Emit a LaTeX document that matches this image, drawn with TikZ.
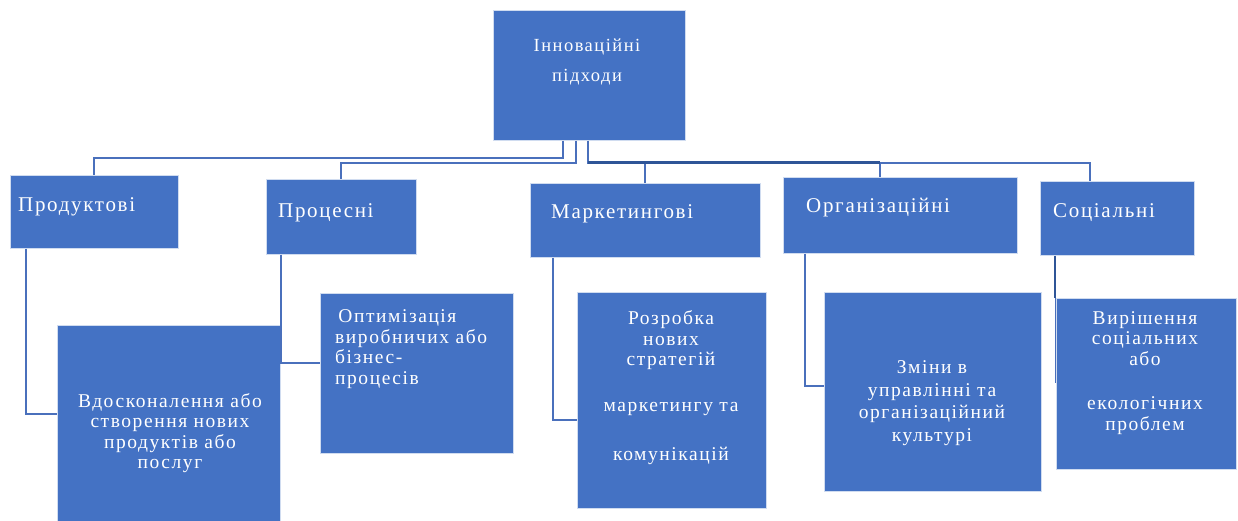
\documentclass[tikz,border=0pt]{standalone}
\usepackage{fontspec}
\setmainfont{Liberation Serif}[LetterSpace=8]
\usetikzlibrary{positioning}

\definecolor{boxblue}{HTML}{4472C4}
\definecolor{linkblue}{HTML}{4A70BC}
\definecolor{darkblue}{HTML}{2F5597}

\tikzset{
	boxnode/.style={draw=white!75!boxblue, fill=boxblue, line width=0.6pt, inner sep=0pt, anchor=north west},
	headtext/.style={text=white, anchor=west, inner sep=0pt, font=\fontsize{21}{23}\selectfont},
	bodytext/.style={text=white, align=center, inner sep=0pt, font=\fontsize{19.5}{20.5}\selectfont},
	link/.style={draw=linkblue, line width=2pt},
}

\begin{document}
\begin{tikzpicture}[x=1pt, y=-1pt]
	
	% Rahmen des Bildes
	\useasboundingbox (0,0) rectangle (1238,521);
	
	% Oberer Kasten
	\node[boxnode, minimum width=192pt, minimum height=130pt] (top) at (493,10) {};
	\node[bodytext, font=\fontsize{18.5}{30}\selectfont] (toptxt) at (587,62) {Інноваційні\\підходи};
	
	% Erste Reihe: Arten
	\node[boxnode, minimum width=168pt, minimum height=73pt] (prod) at (10,175) {};
	\node[boxnode, minimum width=150pt, minimum height=75pt] (proc) at (266,179) {};
	\node[boxnode, minimum width=230pt, minimum height=74pt] (mark) at (530,183) {};
	\node[boxnode, minimum width=234pt, minimum height=76pt] (org) at (783,177) {};
	\node[boxnode, minimum width=154pt, minimum height=74pt] (soc) at (1040,181) {};
	
	\node[headtext] (prodtxt) at ([xshift=8pt,yshift=5pt]prod.west) {Продуктові};
	\node[headtext] (proctxt) at ([xshift=12pt,yshift=4pt]proc.west) {Процесні};
	\node[headtext] (marktxt) at ([xshift=21pt,yshift=7pt]mark.west) {Маркетингові};
	\node[headtext] (orgtxt) at ([xshift=23pt,yshift=8pt]org.west) {Організаційні};
	\node[headtext] (soctxt) at ([xshift=13pt,yshift=6pt]soc.west) {Соціальні};
	
	% Zweite Reihe: Beschreibungen
	\node[boxnode, minimum width=223pt, minimum height=200pt] (impr) at (57,325) {};
	\node[boxnode, minimum width=193pt, minimum height=160pt] (opt) at (320,293) {};
	\node[boxnode, minimum width=189pt, minimum height=216pt] (dev) at (577,292) {};
	\node[boxnode, minimum width=217pt, minimum height=199pt] (chg) at (824,292) {};
	\node[boxnode, minimum width=180pt, minimum height=171pt] (solv) at (1056,298) {};
	
	\node[bodytext] (imprtxt) at (170,433) {Вдосконалення або\\створення нових\\продуктів або\\послуг};
	\node[bodytext, align=left, anchor=west] (opttxt) at (335,349) {\,Оптимізація\\виробничих або\\бізнес-\\процесів};
	\node[bodytext] (devtxt) at (671,388) {Розробка\\нових\\стратегій\\[25pt]маркетингу та\\[29pt]комунікацій};
	\node[bodytext, font=\fontsize{19.5}{22.5}\selectfont] (chgtxt) at (932,403) {Зміни в\\управлінні та\\організаційний\\культурі};
	\node[bodytext] (solvtxt) at (1145,373) {Вирішення\\соціальних\\або\\[24pt]екологічних\\проблем};
	
	% Verbindungen von oben
	\draw[link] ([xshift=-26pt]top.south) -- ++(0,17) -| (prod.north);
	\draw[link] ([xshift=-13pt]top.south) -- ++(0,22) -| (proc.north);
	\draw[link] ([xshift=-1pt]top.south) -- ++(0,22) -| (mark.north);
	\draw[link] ([xshift=-1pt]top.south) ++(0,22) -| ([xshift=-20pt]org.north);
	\draw[link] ([xshift=-1pt]top.south) ++(0,22) -| ([xshift=-27pt]soc.north);
	\draw[link, draw=darkblue, line width=2.8pt] ([xshift=-1pt]top.south) ++(0,22) -- ++(292,0);
	
	% Verbindungen nach unten
	\draw[link] ([xshift=16pt]prod.south west) |- ([yshift=11pt]impr.west);
	\draw[link] ([xshift=15pt]proc.south west) |- ([yshift=10pt]opt.west);
	\draw[link] ([xshift=23pt]mark.south west) |- ([yshift=-20pt]dev.west);
	\draw[link] ([xshift=22pt]org.south west) |- ([yshift=6pt]chg.west);
	\draw[link, draw=darkblue, line width=2.8pt] ([xshift=15pt]soc.south west) -- ([xshift=-1pt]solv.north west);
	\draw[link, line width=0.8pt] ([xshift=-1pt]solv.north west) -- ([xshift=-1pt,yshift=-85pt]solv.north west);
	
\end{tikzpicture}
\end{document}
